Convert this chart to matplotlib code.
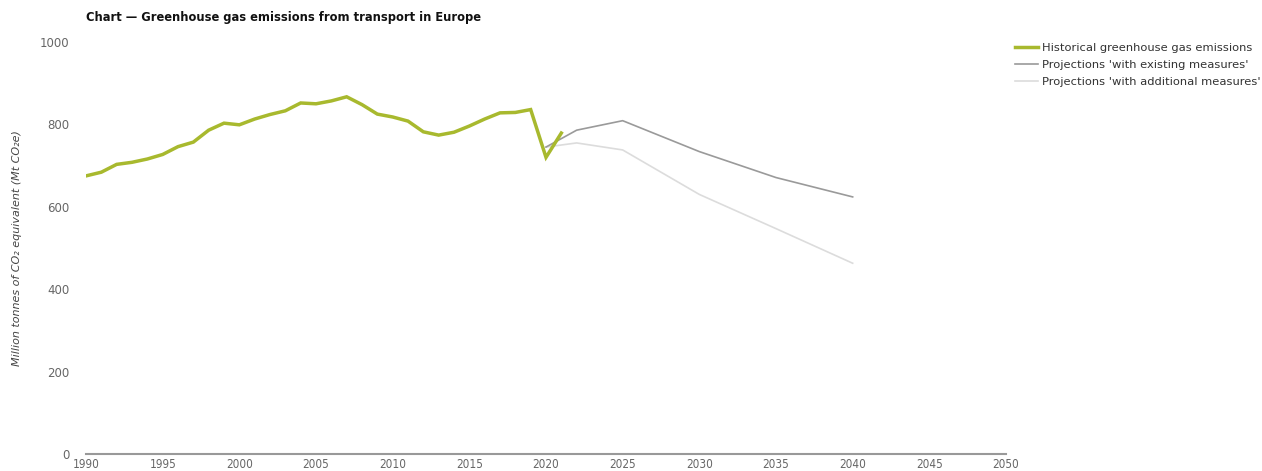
import matplotlib
matplotlib.use("Agg")
import matplotlib.pyplot as plt

years_hist = list(range(1990, 2022))
hist = [675, 684, 703, 708, 716, 727, 746, 757, 786, 803, 799, 813, 824, 833, 852, 850, 857, 867, 848, 825, 818, 808, 782, 774, 781, 796, 813, 828, 829, 836, 720, 779]

years_proj = [2020, 2022, 2025, 2030, 2035, 2040]
wem = [745, 786, 809, 734, 671, 624]
wam = [745, 755, 738, 630, 547, 463]

labels = ["Historical greenhouse gas emissions",
          "Projections 'with existing measures'",
          "Projections 'with additional measures'"]
title = "Chart \u2014 Greenhouse gas emissions from transport in Europe"
ylabel = "Million tonnes of CO\u2082 equivalent (Mt CO\u2082e)"

fig = plt.figure(figsize=(12.62, 4.71), dpi=100)
ax = fig.add_axes([86/1262, 1-454/471, (1006-86)/1262, (454-42)/471])

l3, = ax.plot(years_proj, wam, color="#dcdcdc", lw=1.2, label=labels[2])
l2, = ax.plot(years_proj, wem, color="#9a9a9a", lw=1.2, label=labels[1])
l1, = ax.plot(years_hist, hist, color="#a8b92e", lw=2.5, label=labels[0], solid_joinstyle="miter")

ax.set_xlim(1990, 2050)
ax.set_ylim(0, 1000)
ax.set_xticks(range(1990, 2051, 5))
ax.set_yticks(range(0, 1001, 200))
for s in ["top", "right", "left"]:
    ax.spines[s].set_visible(False)
ax.spines["bottom"].set_color("#999999")
ax.spines["bottom"].set_linewidth(1.5)
ax.tick_params(axis="both", length=0, colors="#666666", labelsize=8.5)
ax.tick_params(axis="y", pad=12)
ax.tick_params(axis="x", pad=3)
for t in ax.get_xticklabels():
    t.set_fontstretch("condensed")

fig.text(17/1262, 1-248/471, ylabel, rotation=90, ha="center", va="center",
         fontsize=8, style="italic", color="#444444")
fig.text(86/1262, 1-18/471, title, ha="left", va="center", fontsize=8.3,
         fontweight="bold", color="#111111")

leg = fig.legend(handles=[l1, l2, l3], labels=labels, loc="upper left",
                 bbox_to_anchor=(1010/1262, 1-38/471), frameon=False,
                 fontsize=8.25, handlelength=2.0, handletextpad=0.4,
                 labelspacing=0.62, borderaxespad=0)
for t in leg.get_texts():
    t.set_color("#333333")

fig.savefig("out.png", dpi=100)
